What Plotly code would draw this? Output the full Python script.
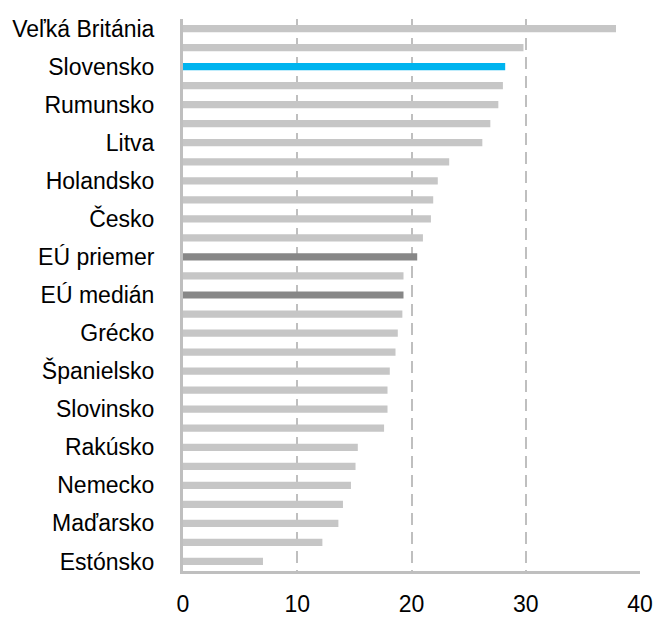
import plotly.graph_objects as go

values = [37.9, 29.8, 28.2, 28.0, 27.6, 26.9, 26.2, 23.3, 22.3, 21.9,
          21.7, 21.0, 20.5, 19.3, 19.3, 19.2, 18.8, 18.6, 18.1, 17.9,
          17.9, 17.6, 15.3, 15.1, 14.7, 14.0, 13.6, 12.2, 7.0]
labels = ["Veľká Británia", "", "Slovensko", "", "Rumunsko", "", "Litva", "",
          "Holandsko", "", "Česko", "", "EÚ priemer", "", "EÚ medián", "",
          "Grécko", "", "Španielsko", "", "Slovinsko", "", "Rakúsko", "",
          "Nemecko", "", "Maďarsko", "", "Estónsko"]
x_ticks = [0, 10, 20, 30, 40]

GRAY = "#c6c6c6"
BLUE = "#00b4ef"
DARK = "#878787"
colors = []
for lab in labels:
    if lab == "Slovensko":
        colors.append(BLUE)
    elif lab in ("EÚ priemer", "EÚ medián"):
        colors.append(DARK)
    else:
        colors.append(GRAY)

pos = list(range(len(values)))
tickpos = [p for p, lab in zip(pos, labels) if lab]
ticktxt = [lab for lab in labels if lab]

fig = go.Figure()
fig.add_trace(go.Bar(
    x=values, y=pos, orientation="h",
    marker=dict(color=colors, line=dict(width=0)),
    width=0.38,
    hoverinfo="x",
))

font_family = "Liberation Sans, Arial, sans-serif"

fig.update_layout(
    width=655, height=619,
    margin=dict(l=183, r=15, t=19, b=48, autoexpand=False),
    paper_bgcolor="white", plot_bgcolor="white",
    showlegend=False,
    font=dict(family=font_family, size=23, color="#000000"),
    xaxis=dict(
        range=[0, 40], tickvals=x_ticks, ticktext=[str(v) for v in x_ticks],
        showgrid=True, gridcolor="#bfbfbf", gridwidth=2, griddash="12px,7px",
        zeroline=False, automargin=False,
        showline=True, linecolor="#bfbfbf", linewidth=3,
        ticks="", ticklabelstandoff=10,
        tickfont=dict(size=23),
    ),
    yaxis=dict(
        range=[28.5, -0.5], tickvals=tickpos, ticktext=ticktxt,
        showgrid=False, zeroline=False, automargin=False,
        showline=True, linecolor="#bfbfbf", linewidth=3,
        ticks="", ticklabelstandoff=21,
        tickfont=dict(size=23),
    ),
)

fig.write_html(
    "out.html",
    config={"displayModeBar": False},
    post_script="document.body.style.margin='0px';document.body.style.overflow='hidden';",
)
